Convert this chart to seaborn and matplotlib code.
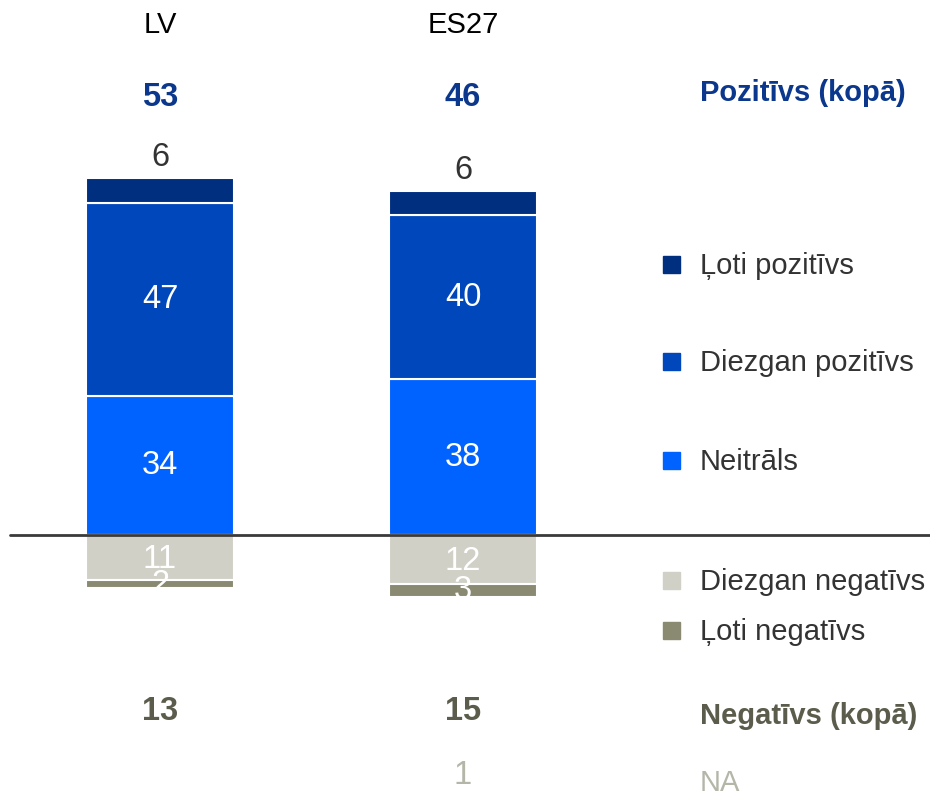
import numpy as np
import pandas as pd
import seaborn as sns
import matplotlib.pyplot as plt
from matplotlib.patches import Rectangle

regions = ["LV", "ES27"]
loti_pozitivs = [6, 6]
diezgan_pozitivs = [47, 40]
neitrals = [34, 38]
diezgan_negativs = [11, 12]
loti_negativs = [2, 3]
pozitivs_kopa = [53, 46]
negativs_kopa = [13, 15]
na_vals = ["", "1"]

legend_labels = ["Ļoti pozitīvs", "Diezgan pozitīvs", "Neitrāls",
                 "Diezgan negatīvs", "Ļoti negatīvs"]
colors = ["#002F80", "#0047BB", "#0062FF", "#D0D0C7", "#8A8A72"]

W, H = 930, 796
sns.set_style("white")
plt.rcParams["font.family"] = ["Liberation Sans", "DejaVu Sans"]

fig = plt.figure(figsize=(W / 100, H / 100), dpi=100)
ax = fig.add_axes([0, 0, 1, 1])

# pixel helpers for the layout (y from top)
def fx(x):
    return x / W

def fy(y):
    return 1 - y / H

# map data -> pixels: baseline at y=535, 4.1 px per unit; bars centred at 160 / 463
ppu = 4.1
base = 535
xstep = 303
x0 = 160

neu = np.array(neitrals)
dp = np.array(diezgan_pozitivs)
lp = np.array(loti_pozitivs)
dn = np.array(diezgan_negativs)
ln = np.array(loti_negativs)

segments = [
    (neitrals, np.zeros(2), colors[2]),
    (diezgan_pozitivs, neu, colors[1]),
    (loti_pozitivs, neu + dp, colors[0]),
    (list(-dn), np.zeros(2), colors[3]),
    (list(-ln), -dn, colors[4]),
]
for vals, bottom, col in segments:
    df = pd.DataFrame({"region": regions, "v": vals})
    sns.barplot(data=df, x="region", y="v", bottom=bottom, color=col,
                width=0.49, edgecolor="white", linewidth=1.5, ax=ax,
                saturation=1, errorbar=None)

ax.set_xlim(-x0 / xstep, (W - x0) / xstep)
ax.set_ylim(-(H - base) / ppu, base / ppu)
ax.axhline(0, xmin=10 / W, xmax=1, color="#3A3A3A", lw=2, zorder=5)
ax.axis("off")

fs = 21
fn = 23.5
for i, r in enumerate(regions):
    ax.text(i, neu[i] / 2, str(neitrals[i]), ha="center", va="center",
            color="white", fontsize=fn)
    ax.text(i, neu[i] + dp[i] / 2, str(diezgan_pozitivs[i]), ha="center",
            va="center", color="white", fontsize=fn)
    ax.text(i, neu[i] + dp[i] + lp[i] + 5, str(loti_pozitivs[i]), ha="center",
            va="center", color="#333333", fontsize=fn)
    ax.text(i, -dn[i] / 2 - 0.5, str(diezgan_negativs[i]), ha="center",
            va="center", color="white", fontsize=fn)
    ax.text(i, -dn[i] - ln[i] / 2, str(loti_negativs[i]), ha="center",
            va="center", color="white", fontsize=fn)
    fig.text(fx(x0 + i * xstep), fy(25), r, ha="center", va="center",
             color="black", fontsize=fs)
    fig.text(fx(x0 + i * xstep), fy(97), str(pozitivs_kopa[i]), ha="center",
             va="center", color="#0B388C", fontsize=fn, fontweight="bold")
    fig.text(fx(x0 + i * xstep), fy(711), str(negativs_kopa[i]), ha="center",
             va="center", color="#5B5C4B", fontsize=fn, fontweight="bold")
    fig.text(fx(x0 + i * xstep), fy(776), na_vals[i], ha="center",
             va="center", color="#B4B6A8", fontsize=fn)

fig.text(fx(700), fy(93), "Pozitīvs (kopā)", ha="left", va="center",
         color="#0B388C", fontsize=fs, fontweight="bold")
fig.text(fx(700), fy(716), "Negatīvs (kopā)", ha="left", va="center",
         color="#5B5C4B", fontsize=fs, fontweight="bold")
fig.text(fx(700), fy(783), "NA", ha="left", va="center",
         color="#B4B6A8", fontsize=fs)

legend_y = [265, 362, 461, 581, 631]
for lab, col, y in zip(legend_labels, colors, legend_y):
    fig.patches.append(Rectangle((fx(663), fy(y + 8)), 17 / W, 17 / H,
                                 transform=fig.transFigure, color=col))
    fig.text(fx(700), fy(y + 1), lab, ha="left", va="center",
             color="#333333", fontsize=fs)

fig.savefig("out.png", dpi=100)
